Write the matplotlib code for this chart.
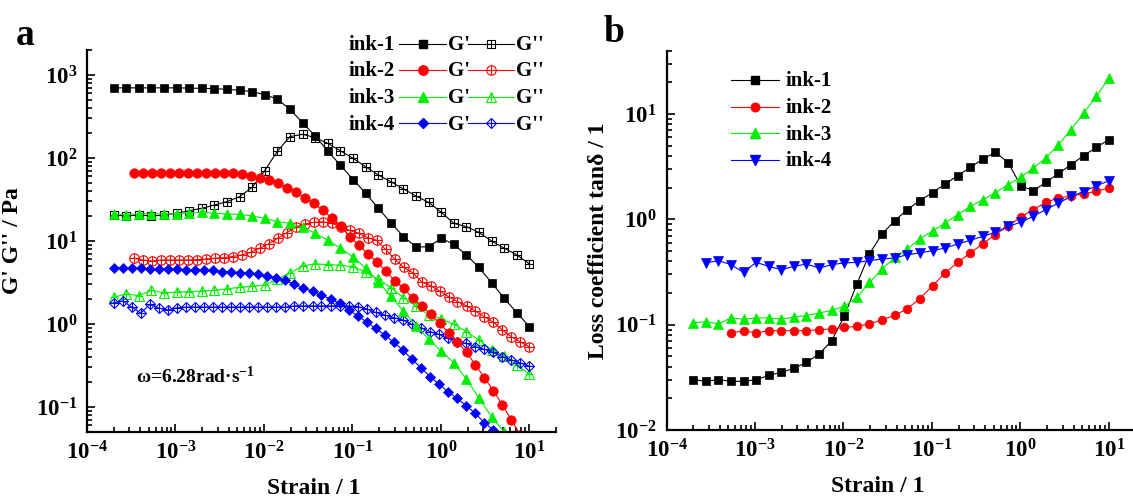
import matplotlib
matplotlib.use('Agg')
import matplotlib.pyplot as plt
from matplotlib.lines import Line2D
from matplotlib.ticker import LogLocator, NullFormatter

plt.rcParams['font.family'] = 'Liberation Serif'
plt.rcParams['font.weight'] = 'bold'
plt.rcParams['axes.labelweight'] = 'bold'
plt.rcParams['mathtext.fontset'] = 'custom'
plt.rcParams['mathtext.rm'] = 'Liberation Serif:bold'
plt.rcParams['mathtext.it'] = 'Liberation Serif:bold'
plt.rcParams['mathtext.bf'] = 'Liberation Serif:bold'
plt.rcParams['mathtext.default'] = 'regular'

# ----------------------------- data ------------------------------

# strain sweeps (7 points per decade for ink-1 / ink-3, ~10 for ink-2 / ink-4)
strain_7 = [2.00e-4, 2.78e-4, 3.85e-4, 5.35e-4, 7.42e-4, 1.03e-3, 1.43e-3,
            1.99e-3, 2.76e-3, 3.82e-3, 5.31e-3, 7.37e-3, 1.02e-2, 1.42e-2,
            1.97e-2, 2.73e-2, 3.80e-2, 5.27e-2, 7.31e-2, 0.102, 0.141, 0.196,
            0.272, 0.377, 0.523, 0.726, 1.01, 1.40, 1.94, 2.69, 3.74, 5.19,
            7.21, 10.0]
strain_ink2 = [3.40e-4, 4.30e-4, 5.43e-4, 6.86e-4, 8.67e-4, 1.10e-3, 1.38e-3,
               1.75e-3, 2.21e-3, 2.79e-3, 3.53e-3, 4.46e-3, 5.63e-3, 7.11e-3,
               8.99e-3, 1.14e-2, 1.44e-2, 1.81e-2, 2.29e-2, 2.90e-2, 3.66e-2,
               4.62e-2, 5.84e-2, 7.38e-2, 9.31e-2, 0.118, 0.149, 0.188, 0.237,
               0.300, 0.379, 0.479, 0.605, 0.764, 0.965, 1.22, 1.54, 1.95,
               2.46, 3.11, 3.93, 4.96, 6.27, 7.92, 10.0]
strain_ink4 = [2.00e-4, 2.53e-4, 3.20e-4, 4.05e-4, 5.12e-4, 6.48e-4, 8.20e-4,
               1.04e-3, 1.31e-3, 1.66e-3, 2.10e-3, 2.66e-3, 3.36e-3, 4.26e-3,
               5.38e-3, 6.81e-3, 8.62e-3, 1.09e-2, 1.38e-2, 1.75e-2, 2.21e-2,
               2.79e-2, 3.54e-2, 4.47e-2, 5.66e-2, 7.16e-2, 9.06e-2, 0.115,
               0.145, 0.183, 0.232, 0.294, 0.371, 0.470, 0.595, 0.752, 0.952,
               1.20, 1.52, 1.93, 2.44, 3.09, 3.90, 4.94, 6.25, 7.91, 10.0]

# storage (G') and loss (G'') modulus, Pa
ink1_g1 = [700, 700, 700, 700, 700, 700, 695, 690, 685, 672, 654, 630, 580,
           510, 386, 266, 184, 121, 82, 55, 37.6, 24.8, 16.6, 11.3, 8.5, 8.5,
           10.8, 9.1, 6.8, 4.8, 3.15, 2.04, 1.37, 0.93]
ink1_g2 = [20.6, 20.0, 20.6, 20.0, 20.6, 21.6, 23.2, 24.8, 27.2, 29.8, 34.2,
           44.4, 70.3, 121, 181, 193, 176, 150, 122, 99, 78.5, 62.4, 51.8,
           42.4, 34.9, 29.2, 22.2, 16.3, 14.9, 12.7, 10.0, 8.2, 6.8, 5.3]
ink2_g1 = [66.5, 66.5, 66.5, 66.5, 66.5, 66.5, 66.5, 66.5, 66.5, 66.5, 66.5,
           65.3, 63.5, 61.2, 57.9, 53.8, 49.5, 43.8, 38.9, 33.3, 28.5, 23.6,
           18.8, 15.2, 11.2, 8.9, 7.0, 5.63, 4.35, 3.33, 2.69, 2.07, 1.65,
           1.31, 1.02, 0.79, 0.61, 0.456, 0.32, 0.225, 0.156, 0.106, 0.07,
           0.046]
ink2_g2 = [6.2, 5.9, 5.75, 5.9, 5.9, 5.9, 5.9, 5.95, 6.07, 6.2, 6.3, 6.5, 6.8,
           7.3, 8.2, 9.3, 10.8, 12.6, 14.8, 16.0, 16.8, 17.0, 16.3, 14.9, 13.4,
           12.4, 11.0, 10.2, 7.9, 6.07, 4.82, 4.15, 3.23, 2.89, 2.5, 2.13,
           1.86, 1.65, 1.43, 1.22, 1.05, 0.85, 0.70, 0.61, 0.53]
ink3_g1 = [21.0, 20.8, 21.2, 21.3, 21.2, 21.3, 21.9, 22.2, 21.6, 21.1, 21.0,
           20.0, 18.8, 17.1, 16.3, 14.6, 12.4, 10.2, 8.2, 6.4, 4.7, 3.25, 2.15,
           1.43, 0.95, 0.66, 0.47, 0.342, 0.217, 0.129, 0.076, 0.05]
ink3_g2 = [2.1, 2.3, 2.2, 2.55, 2.38, 2.42, 2.45, 2.5, 2.55, 2.65, 2.77, 2.85,
           2.95, 3.5, 4.1, 5.0, 5.3, 5.2, 5.1, 4.9, 4.2, 3.45, 2.75, 2.07,
           1.64, 1.3, 1.15, 0.99, 0.81, 0.64, 0.49, 0.41, 0.32, 0.25]
ink4_g1 = [4.77, 4.77, 4.7, 4.7, 4.6, 4.6, 4.55, 4.55, 4.48, 4.48, 4.42, 4.42,
           4.26, 4.26, 4.15, 4.09, 3.97, 3.82, 3.61, 3.35, 3.0, 2.69, 2.5,
           2.24, 1.99, 1.78, 1.47, 1.26, 1.05, 0.887, 0.737, 0.601, 0.486,
           0.376, 0.298, 0.232, 0.189, 0.153, 0.127, 0.104, 0.084, 0.065,
           0.053]
ink4_g2 = [1.8, 1.9, 1.6, 1.35, 1.72, 1.55, 1.48, 1.57, 1.6, 1.6, 1.6, 1.6,
           1.6, 1.6, 1.6, 1.6, 1.6, 1.6, 1.6, 1.6, 1.65, 1.65, 1.65, 1.65,
           1.65, 1.66, 1.65, 1.62, 1.52, 1.38, 1.28, 1.19, 1.12, 0.99, 0.90,
           0.81, 0.75, 0.67, 0.61, 0.585, 0.533, 0.496, 0.456, 0.404, 0.37,
           0.34, 0.31]

# loss coefficient tan(delta) on the 7-per-decade grid
tan_ink1 = [0.0301, 0.029, 0.0301, 0.029, 0.029, 0.030, 0.033, 0.0353,
            0.0385, 0.0439, 0.0527, 0.0705, 0.12, 0.244, 0.472, 0.726, 0.972,
            1.24, 1.51, 1.80, 2.17, 2.60, 3.12, 3.75, 4.33, 3.47, 2.09, 1.87,
            2.25, 2.73, 3.31, 4.03, 4.83, 5.72]
tan_ink2 = [0.0834, 0.0877, 0.0834, 0.0877, 0.0877, 0.0877, 0.0877, 0.0897,
            0.091, 0.0942, 0.0964, 0.1016, 0.1116, 0.1225, 0.142, 0.177,
            0.235, 0.31, 0.391, 0.48, 0.588, 0.716, 0.87, 1.05, 1.24, 1.45,
            1.60, 1.66, 1.75, 1.85, 1.99]
tan_ink3 = [0.104, 0.107, 0.102, 0.116, 0.113, 0.116, 0.116, 0.113, 0.118,
            0.122, 0.129, 0.137, 0.149, 0.182, 0.252, 0.338, 0.436, 0.524,
            0.655, 0.775, 0.925, 1.11, 1.33, 1.54, 1.80, 2.14, 2.51, 3.08,
            3.83, 5.12, 7.11, 10.2, 14.7, 22.0]
tan_ink4 = [0.386, 0.406, 0.372, 0.314, 0.391, 0.358, 0.333, 0.358, 0.377,
            0.345, 0.372, 0.386, 0.391, 0.406, 0.421, 0.43, 0.462, 0.48,
            0.505, 0.535, 0.584, 0.634, 0.69, 0.754, 0.858, 0.94, 1.07, 1.24,
            1.43, 1.65, 1.84, 2.08, 2.33]

inks = ['ink-1', 'ink-2', 'ink-3', 'ink-4']
colors = ['#000000', '#ff0000', '#00ee00', '#0000ff']

# ----------------------------- figure ----------------------------

W, H = 1133, 497
fig = plt.figure(figsize=(W / 100, H / 100), dpi=100)


def fx(px):
    return px / W


def fy(py):
    return 1 - py / H


ax1 = fig.add_axes([fx(87), fy(432), (556 - 87) / W, 382 / H])
ax2 = fig.add_axes([fx(666.5), fy(430), 469 / W, 379.3 / H])

# marker shape, size, size of the cross for open symbols
g1_style = [('s', 6.0), ('o', 6.8), ('^', 7.2), ('D', 4.8)]
g2_style = [('s', 6.0, 6.0), ('o', 6.8, 6.8), ('^', 7.2, 6.2), ('D', 4.8, 6.8)]


def plot_filled(ax, x, y, color, marker, ms):
    ax.plot(x, y, color=color, lw=0.8, marker=marker, ms=ms, mfc=color,
            mec=color, mew=0.5)


def plot_crossed(ax, x, y, color, marker, ms, cross):
    ax.plot(x, y, color=color, lw=0.8, marker=marker, ms=ms, mfc='none',
            mec=color, mew=0.8)
    ax.plot(x, y, ls='none', marker='+', ms=cross, color=color, mew=0.8)


def style_axis(ax, ylim):
    ax.set_xscale('log')
    ax.set_yscale('log')
    ax.set_xlim(1e-4, 20)
    ax.set_ylim(*ylim)
    ax.spines['top'].set_visible(False)
    ax.spines['right'].set_visible(False)
    ax.spines['left'].set_linewidth(1.6)
    ax.spines['bottom'].set_linewidth(1.6)
    for axis in (ax.xaxis, ax.yaxis):
        axis.set_major_locator(LogLocator(base=10, numticks=20))
        axis.set_minor_locator(LogLocator(base=10, subs=range(2, 10),
                                          numticks=20))
        axis.set_minor_formatter(NullFormatter())
    ax.tick_params(which='both', direction='in', width=1.2, labelsize=16.5,
                   pad=7)
    ax.tick_params(which='major', length=5.5)
    ax.tick_params(which='minor', length=3.5)


# ----------------------------- a: G', G'' ------------------------

style_axis(ax1, (0.05, 2000))

g1_data = [(strain_7, ink1_g1), (strain_ink2[:len(ink2_g1)], ink2_g1),
           (strain_7[:len(ink3_g1)], ink3_g1),
           (strain_ink4[:len(ink4_g1)], ink4_g1)]
g2_data = [(strain_7, ink1_g2), (strain_ink2, ink2_g2),
           (strain_7, ink3_g2), (strain_ink4, ink4_g2)]

for i in range(4):
    m, s, c = g2_style[i]
    plot_crossed(ax1, g2_data[i][0], g2_data[i][1], colors[i], m, s, c)
for i in range(4):
    m, s = g1_style[i]
    plot_filled(ax1, g1_data[i][0], g1_data[i][1], colors[i], m, s)

ax1.set_xlabel('Strain / 1', fontsize=17)
ax1.xaxis.set_label_coords(0.484, -0.12)
ax1.set_ylabel("G' G'' / Pa", fontsize=17)
ax1.yaxis.set_label_coords(-0.136, 0.5)

fig.text(fx(136), fy(383), 'ω=6.28rad·s$^{-1}$', fontsize=14,
         va='baseline')
fig.text(fx(16), fy(45), 'a', fontsize=27, va='baseline')

# legend of panel a: ink name, G' symbol, G'' symbol
rows_a = [44, 70, 96.7, 123.3]
for i in range(4):
    y = fy(rows_a[i])
    yb = fy(rows_a[i] + 6.5)
    fig.text(fx(349), yb, inks[i], fontsize=15, va='baseline')
    m, s = g1_style[i]
    fig.add_artist(Line2D([fx(399), fx(446)], [y, y], color=colors[i],
                          lw=0.8, transform=fig.transFigure))
    fig.add_artist(Line2D([fx(422.5)], [y], marker=m, ms=s, color=colors[i],
                          transform=fig.transFigure))
    fig.text(fx(448), yb, "G'", fontsize=15, va='baseline')
    m, s, c = g2_style[i]
    fig.add_artist(Line2D([fx(468), fx(514)], [y, y], color=colors[i],
                          lw=0.8, transform=fig.transFigure))
    fig.add_artist(Line2D([fx(491)], [y], marker=m, ms=s, mfc='none',
                          mec=colors[i], mew=0.8, transform=fig.transFigure))
    fig.add_artist(Line2D([fx(491)], [y], marker='+', ms=c, mew=0.8,
                          color=colors[i], transform=fig.transFigure))
    fig.text(fx(516), yb, "G''", fontsize=15, va='baseline')

# ----------------------------- b: tan(delta) ---------------------

style_axis(ax2, (0.01, 40))

tan_data = [(strain_7, tan_ink1), (strain_7[3:], tan_ink2),
            (strain_7, tan_ink3), (strain_7[1:], tan_ink4)]
tan_style = [('s', 5.4), ('o', 6.2), ('^', 6.8), ('v', 6.8)]

for i in range(4):
    m, s = tan_style[i]
    plot_filled(ax2, tan_data[i][0], tan_data[i][1], colors[i], m, s)

ax2.set_xlabel('Strain / 1', fontsize=17)
ax2.xaxis.set_label_coords(0.45, -0.12)
ax2.set_ylabel('Loss coefficient tanδ / 1', fontsize=17)
ax2.yaxis.set_label_coords(-0.123, 0.5)

fig.text(fx(603), fy(42), 'b', fontsize=27, va='baseline')

rows_b = [80, 106.7, 133.3, 160]
for i in range(4):
    y = fy(rows_b[i])
    m, s = tan_style[i]
    fig.add_artist(Line2D([fx(731), fx(779)], [y, y], color=colors[i],
                          lw=0.8, transform=fig.transFigure))
    fig.add_artist(Line2D([fx(755)], [y], marker=m, ms=s, color=colors[i],
                          transform=fig.transFigure))
    fig.text(fx(786), fy(rows_b[i] + 6.5), inks[i], fontsize=15,
             va='baseline')

fig.savefig('out.png', dpi=100)
